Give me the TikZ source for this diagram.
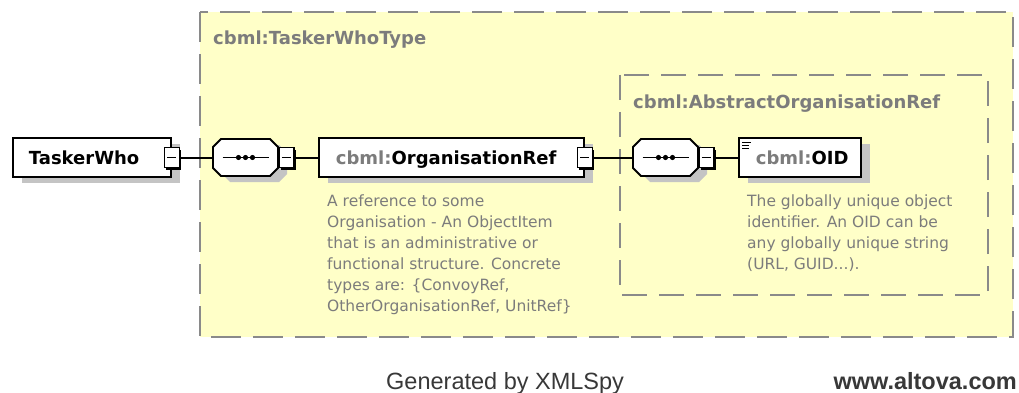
\documentclass[tikz,border=0pt]{standalone}
\usepackage{fontspec}
\setmainfont{DejaVu Sans}
\newfontfamily\footfont{Liberation Sans}
\usetikzlibrary{shadows}
\definecolor{typefill}{HTML}{FFFFC8}
\definecolor{dashgray}{HTML}{8A8A8A}
\definecolor{docgray}{HTML}{7C7C7C}
\definecolor{shadegray}{HTML}{C4C4C4}
\definecolor{footgray}{HTML}{383838}
\newcommand{\cbml}{\textcolor{docgray}{cbml:}}

\begin{document}
\begin{tikzpicture}[x=1pt,y=-1pt,
    shade box/.style={drop shadow={shadow xshift=9pt,shadow yshift=-6pt,fill=shadegray,opacity=1}},
    elem/.style={draw,line width=1.8pt,fill=white,shade box,minimum height=39pt,
      inner xsep=16pt,inner ysep=0pt,align=left,text height=13pt,text depth=0pt,
      font=\fontsize{18}{20}\selectfont\bfseries},
    seqpic/.pic={
      \fill[shadegray,shift={(9,6)}] (-24.5,-18.5) -- (24.5,-18.5) -- (32.5,-10.5) -- (32.5,10.5)
        -- (24.5,18.5) -- (-24.5,18.5) -- (-32.5,10.5) -- (-32.5,-10.5) -- cycle;
      \filldraw[fill=white,line width=1.8pt] (-24.5,-18.5) -- (24.5,-18.5) -- (32.5,-10.5) -- (32.5,10.5)
        -- (24.5,18.5) -- (-24.5,18.5) -- (-32.5,10.5) -- (-32.5,-10.5) -- cycle;
      \node[inner sep=0pt,minimum width=65pt,minimum height=37pt] (-box) at (0,0) {};
      \draw[line width=1.6pt] (-23,0) -- (23,0);
      \foreach \dx in {-7,0,7}
        \fill (\dx,0) circle (2.6pt);},
    minus/.style={draw,line width=1.5pt,fill=white,minimum width=15pt,minimum height=20pt,
      inner sep=0pt,drop shadow={shadow xshift=2pt,shadow yshift=-2pt,fill=black,opacity=1},
      path picture={\draw[black,line width=1.5pt] ([xshift=3pt]path picture bounding box.west)
        -- ([xshift=-3pt]path picture bounding box.east);}},
    doc/.style={align=left,inner sep=0pt,text=docgray,font=\fontsize{15.5}{21}\selectfont},
    title/.style={inner sep=0pt,text=docgray,font=\fontsize{18}{20}\selectfont\bfseries},
    link/.style={line width=2pt}]
  \useasboundingbox (0,0) rectangle (1019,393);

  % type containers
  \filldraw[fill=typefill,draw=dashgray,line width=2pt,dash pattern=on 30pt off 12pt]
    (200,12) rectangle (1013,337);
  \node[title,anchor=base west] (typename) at (213,45) {cbml:TaskerWhoType};
  \draw[dashgray,line width=2pt,dash pattern=on 25pt off 12pt] (620,75) rectangle (988,295);
  \node[title,anchor=base west] (groupname) at (633,109) {cbml:AbstractOrganisationRef};

  % elements
  \node[elem,text width=126pt,anchor=west] (tasker) at (12,157.5) {TaskerWho};
  \node[minus] (taskerminus) at (tasker.east) {};
  \pic (seqa) at (245.5,157.5) {seqpic};
  \node[minus,anchor=west] (seqaminus) at (seqa-box.east) {};
  \node[elem,text width=231pt,inner xsep=17pt,anchor=west] (orgref) at (318,157.5) {\cbml OrganisationRef};
  \node[minus] (orgrefminus) at (orgref.east) {};
  \pic (seqb) at (665.5,157.5) {seqpic};
  \node[minus,anchor=west] (seqbminus) at (seqb-box.east) {};
  \node[elem,text width=88pt,inner xsep=17pt,anchor=west] (oid) at (738,157.5) {\cbml OID};
  \foreach \dy/\len in {0/9,3/7,6/7}
    \draw[line width=1pt] ([xshift=4pt,yshift=-5pt-\dy pt]oid.north west) -- ++(\len,0);

  % links
  \draw[link] (taskerminus) -- (seqa-box);
  \draw[link] (seqaminus) -- (orgref);
  \draw[link] (orgrefminus) -- (seqb-box);
  \draw[link] (seqbminus) -- (oid);

  % annotations
  \node[doc,anchor=north west] (orgdoc) at (327,195) {A reference to some\\Organisation - An ObjectItem\\that is an administrative or\\functional structure. Concrete\\types are: \{ConvoyRef,\\OtherOrganisationRef, UnitRef\}};
  \node[doc,anchor=north west] (oiddoc) at (747,195) {The globally unique object\\identifier. An OID can be\\any globally unique string\\(URL, GUID...).};

  \node[anchor=base west,inner sep=0pt,text=footgray,font=\footfont\fontsize{23.5}{26}\selectfont] (generated) at (386,389) {Generated by XMLSpy};
  \node[anchor=base east,inner sep=0pt,text=footgray,font=\footfont\bfseries\fontsize{23.5}{26}\selectfont] (altova) at (1017,389) {www.altova.com};
\end{tikzpicture}
\end{document}
